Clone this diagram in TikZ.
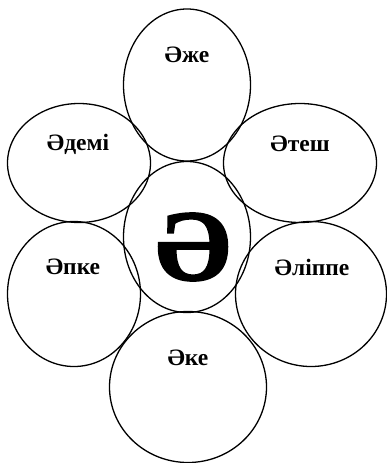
\documentclass[tikz,border=0pt]{standalone}
\usepackage{fontspec}
\setmainfont{Liberation Serif}
\newfontface\bigfont[FakeBold=2.5]{Liberation Serif Bold}
\usetikzlibrary{shapes.geometric}
\begin{document}
\begin{tikzpicture}[x=1pt,y=-1pt,
  petal/.style={draw=black, line width=1.3pt, ellipse, inner sep=0pt},
  word/.style={font=\fontsize{23.5}{26}\selectfont\bfseries, inner sep=0pt},
  big/.style={font=\bigfont\fontsize{100}{110}\selectfont, inner sep=0pt}]
\useasboundingbox (0,0) rectangle (387,463);
\node[petal, minimum width=127, minimum height=152] (top) at (187,85) {};
\node[petal, minimum width=143, minimum height=119] (ul) at (79,163) {};
\node[petal, minimum width=153, minimum height=119] (ur) at (300,163) {};
\node[petal, minimum width=127, minimum height=151] (mid) at (187,237) {};
\node[petal, minimum width=133, minimum height=145] (ll) at (74,294) {};
\node[petal, minimum width=151, minimum height=145] (lr) at (311,294) {};
\node[petal, minimum width=157, minimum height=151] (bot) at (188,387) {};
\node[word] (t1) at (187,55) {Әже};
\node[word] (t2) at (78,144) {Әдемі};
\node[word] (t3) at (300,144) {Әтеш};
\node[word] (t4) at (73,267) {Әпке};
\node[word] (t5) at (312,267) {Әліппе};
\node[word] (t6) at (188,358) {Әке};
\node[big] (tc) at (193,247) {Ә};
\end{tikzpicture}
\end{document}
